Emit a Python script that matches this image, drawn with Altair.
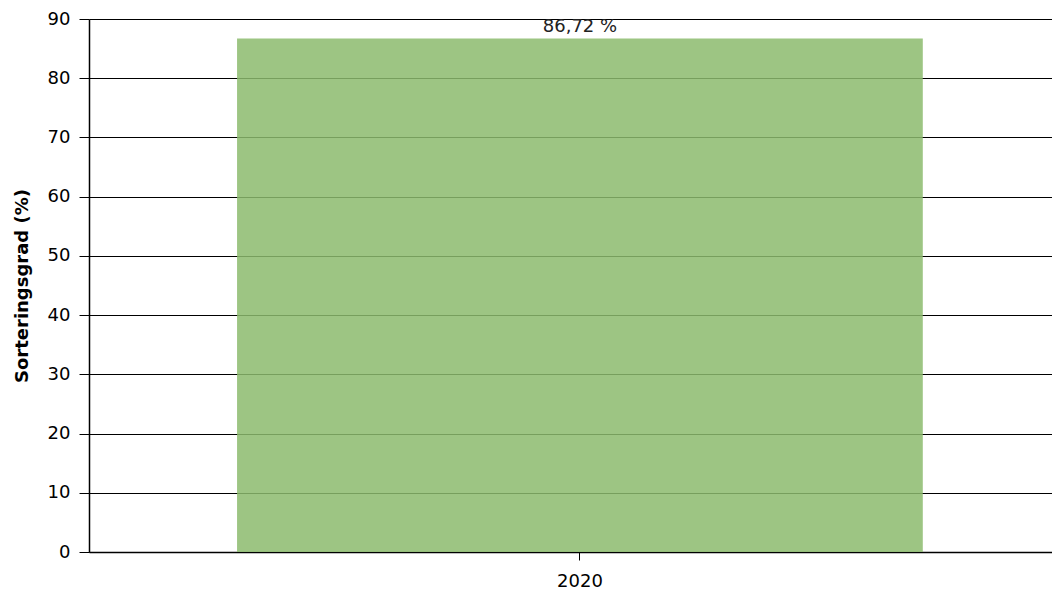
import altair as alt
import pandas as pd

years = ["2020"]
values = [86.72]
labels = ["86,72 %"]

df = pd.DataFrame({"year": years, "value": values, "label": labels})

FONT = "DejaVu Sans"

base = alt.Chart(df).encode(
    x=alt.X(
        "year:N",
        title=None,
        scale=alt.Scale(paddingInner=0.2877, paddingOuter=0.144, align=0.534),
        axis=alt.Axis(
            labelAngle=0,
            labelFont=FONT,
            labelFontSize=18,
            labelColor="black",
            labelPadding=12,
            tickColor="black",
            tickSize=8,
            tickWidth=1,
            domainColor="black",
            domainWidth=1.5,
            grid=False,
        ),
    ),
)

bars = base.mark_bar(color="#8cbb6d", opacity=0.85).encode(
    y=alt.Y(
        "value:Q",
        title="Sorteringsgrad (%)",
        scale=alt.Scale(domain=[0, 90], nice=False),
        axis=alt.Axis(
            values=list(range(0, 91, 10)),
            labelFont=FONT,
            labelFontSize=18,
            labelColor="black",
            labelPadding=9,
            tickColor="black",
            tickSize=10,
            tickWidth=1,
            domainColor="black",
            domainWidth=1.5,
            gridColor="black",
            gridWidth=1.2,
            gridOpacity=1,
            titleFont=FONT,
            titleFontSize=18,
            titleFontWeight="bold",
            titleColor="black",
            titlePadding=16,
        ),
    )
)

text = base.mark_text(
    font=FONT, fontSize=18, color="#222222", baseline="alphabetic", dy=-6
).encode(y="value:Q", text="label:N")

chart = (
    alt.layer(bars, text)
    .properties(width=963, height=533, padding={"left": 5, "top": 2, "right": 0, "bottom": 0})
    .configure_view(stroke=None)
    .configure(background="white")
)

chart.save("out.html", embed_options={"renderer": "svg", "actions": False})
